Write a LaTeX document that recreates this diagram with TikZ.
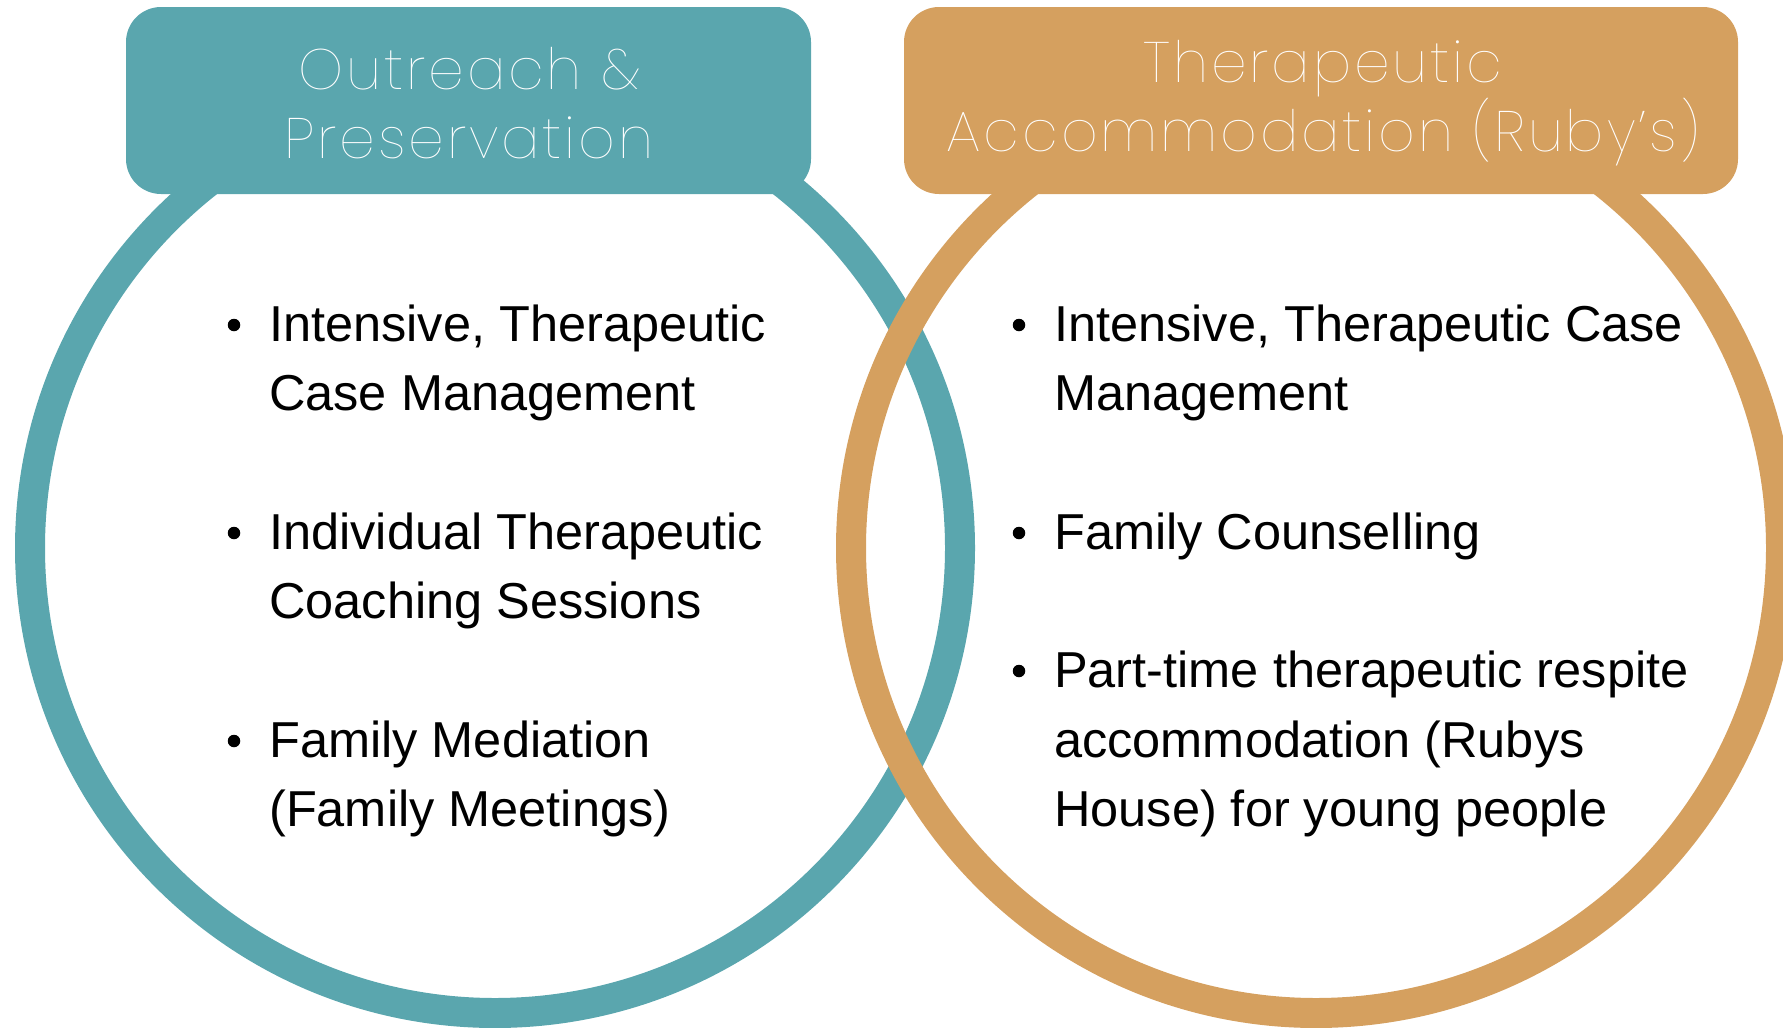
\documentclass[tikz,border=0pt]{standalone}
\usepackage{fontspec}
\setmainfont{Liberation Sans}
\IfFontExistsTF{Poppins Thin}{\newfontfamily\titlefont{Poppins Thin}[LetterSpace=5]}{%
 \IfFontExistsTF{Poppins ExtraLight}{\newfontfamily\titlefont{Poppins ExtraLight}[LetterSpace=5]}{%
  \IfFontExistsTF{Poppins Light}{\newfontfamily\titlefont{Poppins Light}[LetterSpace=5]}{%
   \IfFontExistsTF{Fira Sans ExtraLight}{\newfontfamily\titlefont{Fira Sans ExtraLight}[LetterSpace=5]}{%
    \newfontfamily\titlefont{Poppins}[LetterSpace=5]}}}}
\definecolor{tealc}{HTML}{5AA6AE}
\definecolor{orangec}{HTML}{D5A05F}
\tikzset{
  ring/.style={line width=30pt},
  tbox/.style={rounded corners=35pt, inner sep=0pt, minimum width=#1, minimum height=187pt},
  ttl/.style={anchor=base, inner sep=0pt, text=white, font=\titlefont\fontsize{57}{69}\selectfont},
  itm/.style={anchor=base west, inner sep=0pt, text=black, font=\fontsize{50.5}{69}\selectfont},
  bul/.style={circle, fill=black, inner sep=0pt, minimum size=12.5pt},
}
\begin{document}
\begin{tikzpicture}[x=1pt,y=-1pt]
\useasboundingbox (0,0) rectangle (1783,1028);
\clip (0,0) rectangle (1783,1028);
\coordinate (cL) at (495,548);
\coordinate (cR) at (1316,548);
\draw[ring, tealc] (cL) circle[radius=465pt];
\draw[ring, orangec] (cR) circle[radius=465pt];
\node[tbox=685pt, fill=tealc] (boxL) at (468.5,100.5) {};
\node[tbox=834pt, fill=orangec] (boxR) at (1321,100.5) {};
\node[ttl] (tL1) at (469,89) {Outreach \&};
\node[ttl] (tL2) at (469,158) {Preservation};
\node[ttl] (tR1) at (1323,82) {Therapeutic};
\node[ttl] (tR2) at (1323,151) {Accommodation (Ruby’s)};
% left items
\node[bul] (bL1) at (234,325) {};
\node[itm] (L1a) at (269,341) {Intensive, Therapeutic};
\node[itm] (L1b) at (269,410) {Case Management};
\node[bul] (bL2) at (234,533) {};
\node[itm] (L2a) at (269,549) {Individual Therapeutic};
\node[itm] (L2b) at (269,618) {Coaching Sessions};
\node[bul] (bL3) at (234,741) {};
\node[itm] (L3a) at (269,757) {Family Mediation};
\node[itm] (L3b) at (269,826) {(Family Meetings)};
% right items
\node[bul] (bR1) at (1019,325) {};
\node[itm] (R1a) at (1054,341) {Intensive, Therapeutic Case};
\node[itm] (R1b) at (1054,410) {Management};
\node[bul] (bR2) at (1019,533) {};
\node[itm] (R2a) at (1054,549) {Family Counselling};
\node[bul] (bR3) at (1019,671) {};
\node[itm] (R3a) at (1054,687) {Part-time therapeutic respite};
\node[itm] (R3b) at (1054,757) {accommodation (Rubys};
\node[itm] (R3c) at (1054,826) {House) for young people};
\end{tikzpicture}
\end{document}
